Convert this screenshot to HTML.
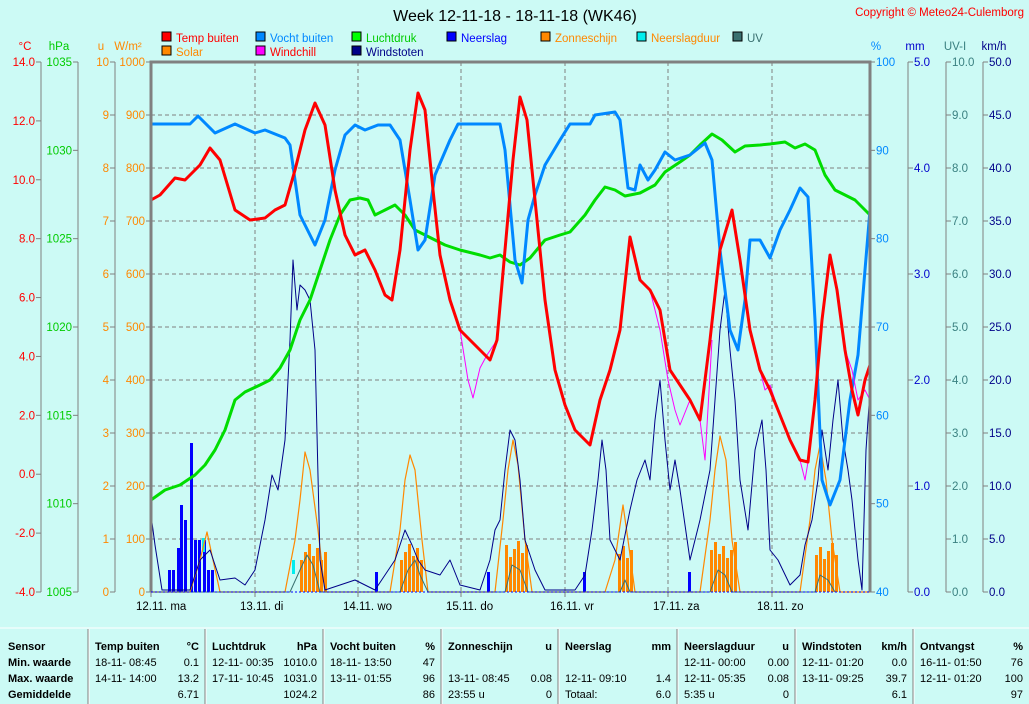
<!DOCTYPE html><html><head><meta charset="utf-8"><style>
body{margin:0;background:#ccfaf5;width:1029px;height:704px;overflow:hidden;font-family:"Liberation Sans",sans-serif}
svg{position:absolute;left:0;top:0}
</style></head><body>
<svg id="s" width="1029" height="704" xmlns="http://www.w3.org/2000/svg" font-family="Liberation Sans, sans-serif" font-size="11.5"></svg>
<script>
var s=document.getElementById('s'),h='';
function t(x,y,str,c,a,w,fs){h+='<text x="'+x+'" y="'+y+'" fill="'+c+'"'+(a?' text-anchor="'+a+'"':'')+(w?' font-weight="bold"':'')+(fs?' font-size="'+fs+'"':'')+'>'+str+'</text>';}
function L(x1,y1,x2,y2,c,w,d){h+='<line x1="'+x1+'" y1="'+y1+'" x2="'+x2+'" y2="'+y2+'" stroke="'+c+'" stroke-width="'+(w||1)+'"'+(d?' stroke-dasharray="'+d+'"':'')+'/>';}
function P(pts,c,w){h+='<polyline fill="none" stroke="'+c+'" stroke-width="'+w+'" stroke-linejoin="round" points="'+pts+'"/>';}
var T=62,B=592;
t(515,21,'Week 12-11-18 - 18-11-18 (WK46)','#000','middle',0,16);
t(1024,16,'Copyright © Meteo24-Culemborg','#f00','end');
for(var i=1;i<10;i++){var y=T+i*53;L(151,y,870,y,'#808080',1,'4,3');}
[255,358,461,565,668,772].forEach(function(x){L(x,T,x,B,'#808080',1,'4,3');});
var G='#808080';
function axis(x,lo,hi,n,col,dec,left,unit,ux){L(x,T,x,B,G,1);for(var i=0;i<=n;i++){var y=T+i*(B-T)/n;var v=(hi-(hi-lo)*i/n).toFixed(dec);if(left){L(x-5,y,x,y,G);t(x-6,y+4,v,col,'end');}else{L(x,y,x+5,y,G);t(x+6,y+4,v,col);}}t(ux,50,unit,col,'middle');}
axis(41,-4,14,9,'#f00',1,1,'°C',25);
axis(78,1005,1035,6,'#0c0',0,1,'hPa',59);
axis(115,0,10,10,'#f80',0,1,'u',101);
axis(151,0,1000,10,'#f80',0,1,'W/m²',128);
axis(908,0,5,5,'#00c',1,0,'mm',915);
axis(946,0,10,10,'#3a8080',1,0,'UV-I',955);
axis(983,0,50,10,'#008',1,0,'km/h',994);
axis(870,40,100,6,'#08f',0,0,'%',876);
var lg=[[162,38,'#f00','Temp buiten','#f00'],[256,38,'#08f','Vocht buiten','#08f'],[352,38,'#0f0','Luchtdruk','#0c0'],[447,38,'#00f','Neerslag','#00f'],[541,38,'#f80','Zonneschijn','#f80'],[637,38,'#0ee','Neerslagduur','#f80'],[733,38,'#3a7070','UV','#3a7070'],[162,52,'#f80','Solar','#f80'],[256,52,'#f0f','Windchill','#f00'],[352,52,'#008','Windstoten','#008']];
lg.forEach(function(l){h+='<rect x="'+l[0]+'" y="'+(l[1]-6)+'" width="9" height="9" fill="'+l[2]+'" stroke="#000"/>';t(l[0]+14,l[1]+4,l[3],l[4]);});
[['12.11.  ma',151],['13.11.  di',255],['14.11.  wo',358],['15.11.  do',461],['16.11.  vr',565],['17.11.  za',668],['18.11.  zo',772]].forEach(function(a){L(a[1],B,a[1],B+5,G);t(a[1]-15,610,a[0],'#000');});
[[300,324],[400,422],[505,527],[618,630],[710,737],[815,836]].forEach(function(r){for(var x=r[0];x<=r[1];x+=4){var hh=32+((x*7)%20);h+='<rect x="'+x+'" y="'+(B-hh)+'" width="3" height="'+hh+'" fill="#f80"/>';}});
[[168,570],[172,570],[177,548],[180,505],[184,520],[190,443],[194,540],[198,540],[203,540],[207,570],[211,570],[375,572],[487,572],[583,572],[688,572]].forEach(function(b){h+='<rect x="'+b[0]+'" y="'+b[1]+'" width="3" height="'+(B-b[1])+'" fill="#00f"/>';});
h+='<rect x="202" y="538" width="3" height="14" fill="#0ee"/><rect x="292" y="560" width="3" height="14" fill="#0ee"/>';
P('151,592 190,592 200,560 207,532 213,560 220,592 285,592 295,540 300,500 305,452 310,470 318,530 325,592 390,592 400,530 405,480 410,455 415,470 422,540 428,592 495,592 503,520 508,470 513,440 518,465 525,540 532,592 605,592 615,560 623,505 628,540 635,592 700,592 710,520 715,470 720,436 726,460 732,540 740,592 800,592 810,520 815,470 820,445 826,480 832,540 840,592 870,592','#f80',1.2);
P('151,592 290,592 300,570 307,555 313,565 320,592 400,592 408,570 415,560 420,575 428,592 505,592 512,565 520,570 528,592 620,592 625,580 630,592 710,592 718,570 725,575 732,592 815,592 820,575 828,580 835,592','#3a7070',1);
P('151,515 155,545 162,590 190,590 200,560 210,550 220,580 235,578 245,585 255,570 265,520 272,475 278,490 285,440 290,340 293,260 297,310 300,285 305,290 310,300 315,350 320,560 325,590 355,580 365,585 375,590 385,575 395,560 405,530 412,545 418,560 425,570 440,575 450,560 460,585 480,590 490,560 495,530 500,520 505,470 510,430 515,440 520,480 525,540 535,570 545,590 575,590 585,575 592,530 598,480 602,440 606,470 610,540 620,560 630,510 637,480 645,460 650,480 655,420 660,380 665,440 670,490 675,460 680,490 690,560 700,520 710,470 715,400 720,330 725,290 730,350 735,400 740,480 748,530 755,450 762,420 766,470 770,550 778,560 790,585 800,575 805,545 812,520 818,480 822,430 828,470 833,420 838,380 843,440 848,470 852,500 858,560 862,590 866,450 870,390','#008',1);
P('151,500 165,490 180,485 195,475 205,465 215,450 225,430 235,400 245,392 260,385 270,380 280,368 290,350 300,320 310,300 320,270 330,240 340,215 350,200 360,198 368,200 375,215 385,210 395,205 405,215 415,230 425,235 435,240 445,245 460,250 480,255 490,258 500,255 510,262 520,265 530,258 545,240 560,235 570,232 585,215 595,200 605,187 615,190 625,196 640,193 655,185 665,172 680,162 690,155 700,145 712,134 722,140 735,152 745,146 760,145 770,144 785,142 795,148 805,144 815,150 825,175 835,190 845,195 855,200 870,215','#0d0',3);
P('151,124 190,124 198,116 215,133 235,124 255,133 265,130 285,138 290,145 300,215 315,245 325,220 335,170 345,135 355,125 365,130 378,125 390,125 400,140 410,200 418,250 425,240 435,175 450,140 458,124 500,124 505,150 515,260 522,283 528,220 535,195 545,165 560,140 570,124 590,124 595,115 615,112 620,120 628,188 635,190 640,165 648,180 655,170 665,152 675,160 690,155 705,143 712,160 720,250 730,330 738,350 745,300 750,240 760,240 770,258 780,230 790,210 800,188 808,197 815,320 822,480 830,505 840,480 850,400 858,355 865,270 870,210','#08f',3);
P('460,330 468,380 473,398 480,368 487,355 497,340','#f0f',1);
P('650,290 660,330 668,380 675,410 680,425 690,400 700,420 705,460 712,340','#f0f',1);
P('750,330 760,370 765,390 770,385 780,415 790,440 800,460 805,480 808,462','#f0f',1);
P('822,320 830,255 837,290 845,350 852,370 858,400 865,390 870,400','#f0f',1);
P('151,200 160,195 175,178 185,180 200,165 210,148 220,160 235,210 250,220 265,218 275,210 285,205 295,170 305,130 315,103 325,125 335,190 345,235 355,255 365,250 375,270 385,295 392,300 400,250 410,150 418,93 425,110 433,190 440,255 450,300 460,330 470,340 480,350 490,360 497,340 505,250 513,160 520,97 527,120 535,200 545,300 555,370 565,405 575,430 590,445 600,400 610,370 620,330 630,237 640,280 650,290 660,310 670,370 680,385 690,400 700,420 710,340 720,250 732,210 740,260 750,330 760,370 770,390 780,415 790,440 800,460 808,462 815,400 822,320 830,255 837,290 845,350 852,390 858,415 865,380 870,365','#f00',3);
h+='<polyline fill="none" stroke="#808080" stroke-width="3" points="151,592 151,62 870,62 870,592"/>';L(151,592,870,592,'#00f',1,'2,2');
L(0,628,1029,628,'#fff',1);
[88,205,323,441,558,677,795,913].forEach(function(x){L(x,629,x,704,'#808080',1);L(x+1,629,x+1,704,'#fff',1);});
var ry=[650,666,682,698];
['Sensor','Min. waarde','Max. waarde','Gemiddelde'].forEach(function(v,i){t(8,ry[i],v,'#000',0,1,11);});
var cols=[
[88,205,['Temp buiten','°C'],[['18-11-  08:45','0.1'],['14-11-  14:00','13.2'],['','6.71']]],
[205,323,['Luchtdruk','hPa'],[['12-11-  00:35','1010.0'],['17-11-  10:45','1031.0'],['','1024.2']]],
[323,441,['Vocht buiten','%'],[['18-11-  13:50','47'],['13-11-  01:55','96'],['','86']]],
[441,558,['Zonneschijn','u'],[['',''],['13-11-  08:45','0.08'],['23:55 u','0']]],
[558,677,['Neerslag','mm'],[['',''],['12-11-  09:10','1.4'],['Totaal:','6.0']]],
[677,795,['Neerslagduur','u'],[['12-11-  00:00','0.00'],['12-11-  05:35','0.08'],['5:35 u','0']]],
[795,913,['Windstoten','km/h'],[['12-11-  01:20','0.0'],['13-11-  09:25','39.7'],['','6.1']]],
[913,1029,['Ontvangst','%'],[['16-11-  01:50','76'],['12-11-  01:20','100'],['','97']]]];
cols.forEach(function(c){t(c[0]+7,ry[0],c[2][0],'#000',0,1,11);t(c[1]-6,ry[0],c[2][1],'#000','end',1,11);c[3].forEach(function(r,i){t(c[0]+7,ry[i+1],r[0].replace(/  /g,'&#160;'),'#000',0,0,11);t(c[1]-6,ry[i+1],r[1],'#000','end',0,11);});});
s.innerHTML=h;
</script></body></html>
